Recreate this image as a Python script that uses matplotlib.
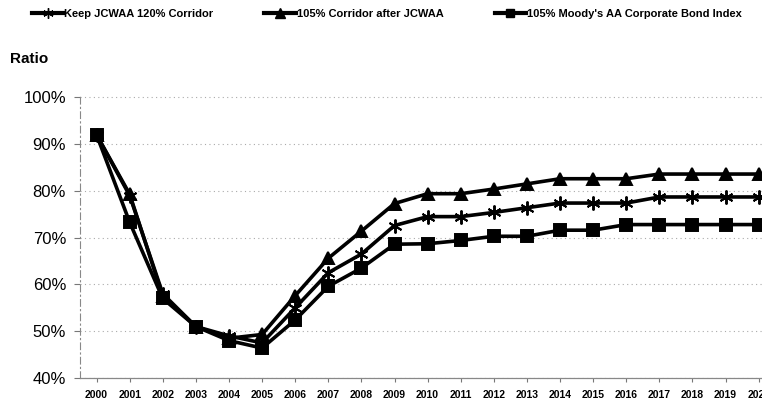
import numpy as np
import matplotlib
matplotlib.use("Agg")
import matplotlib.pyplot as plt
from matplotlib.lines import Line2D
from matplotlib.ticker import FuncFormatter

plt.rcParams['font.family'] = ['Liberation Sans', 'DejaVu Sans']

years = list(range(2000, 2021))

# ratio values (%)
keep_120 = [92, 79, 58, 51, 49, 47.5, 55, 62.5, 66.5, 72.6, 74.5, 74.5, 75.4, 76.4,
            77.4, 77.4, 77.4, 78.7, 78.7, 78.7, 78.7]
corr_105 = [92, 79.3, 57.5, 51, 48.5, 49.3, 57.6, 65.6, 71.4, 77.3, 79.4, 79.4, 80.4,
            81.5, 82.6, 82.6, 82.6, 83.6, 83.6, 83.6, 83.6]
moody_105 = [92, 73.3, 57, 51, 48, 46.4, 52.4, 59.6, 63.5, 68.6, 68.7, 69.4, 70.3,
             70.3, 71.6, 71.6, 72.8, 72.8, 72.8, 72.8, 72.8]

labels = ["Keep JCWAA 120% Corridor", "105% Corridor after JCWAA",
          "105% Moody's AA Corporate Bond Index"]
markers = [(6, 2, 0), '^', 's']
msizes = [10, 9, 8]

fig = plt.figure(figsize=(7.62, 4.03), dpi=100)
ax = fig.add_axes([80 / 762, 25 / 403, 682 / 762, 283 / 403])

for vals, mk, ms in zip([keep_120, corr_105, moody_105], markers, msizes):
    ax.plot(years, vals, color='black', lw=2.6, marker=mk, ms=ms,
            mec='black', mfc='black', mew=1.4, clip_on=False, zorder=3)

ax.set_xlim(1999.5, 2020.1)
ax.set_ylim(40, 100.5)
ax.set_yticks(np.arange(40, 101, 10))
ax.yaxis.set_major_formatter(FuncFormatter(lambda v, p: f"{v:.0f}%"))
ax.set_xticks(years)
ax.tick_params(axis='y', labelsize=12, length=4, color='#777777', pad=6)
ax.tick_params(axis='x', labelsize=7.5, length=3, color='#777777', pad=6)
for t in ax.get_xticklabels():
    t.set_fontweight('bold')

ax.grid(axis='y', ls=(0, (1, 3)), color='#aaaaaa', lw=0.8)
ax.grid(axis='x', visible=False)
for s in ['top', 'right']:
    ax.spines[s].set_visible(False)
ax.spines['left'].set_linestyle((0, (6, 3, 1, 3)))
ax.spines['left'].set_color('#888888')
ax.spines['left'].set_linewidth(0.8)
ax.spines['bottom'].set_color('#888888')
ax.spines['bottom'].set_linewidth(0.9)

fig.text(10 / 762, 1 - 59 / 403, "Ratio", fontsize=11, fontweight='bold',
         va='center', ha='left')

handles = [Line2D([0], [0], color='black', lw=3, marker=mk, ms=ms * 0.75,
                  mfc='black', mec='black')
           for mk, ms in zip(markers, msizes)]
fig.legend(handles, labels, loc='center left', bbox_to_anchor=(32 / 762, 1 - 14 / 403),
           ncol=3, frameon=False, handlelength=2.8, handletextpad=0.1,
           columnspacing=4.6, borderaxespad=0, borderpad=0,
           prop={'size': 8, 'weight': 'bold'})

fig.savefig("out.png", dpi=100)
